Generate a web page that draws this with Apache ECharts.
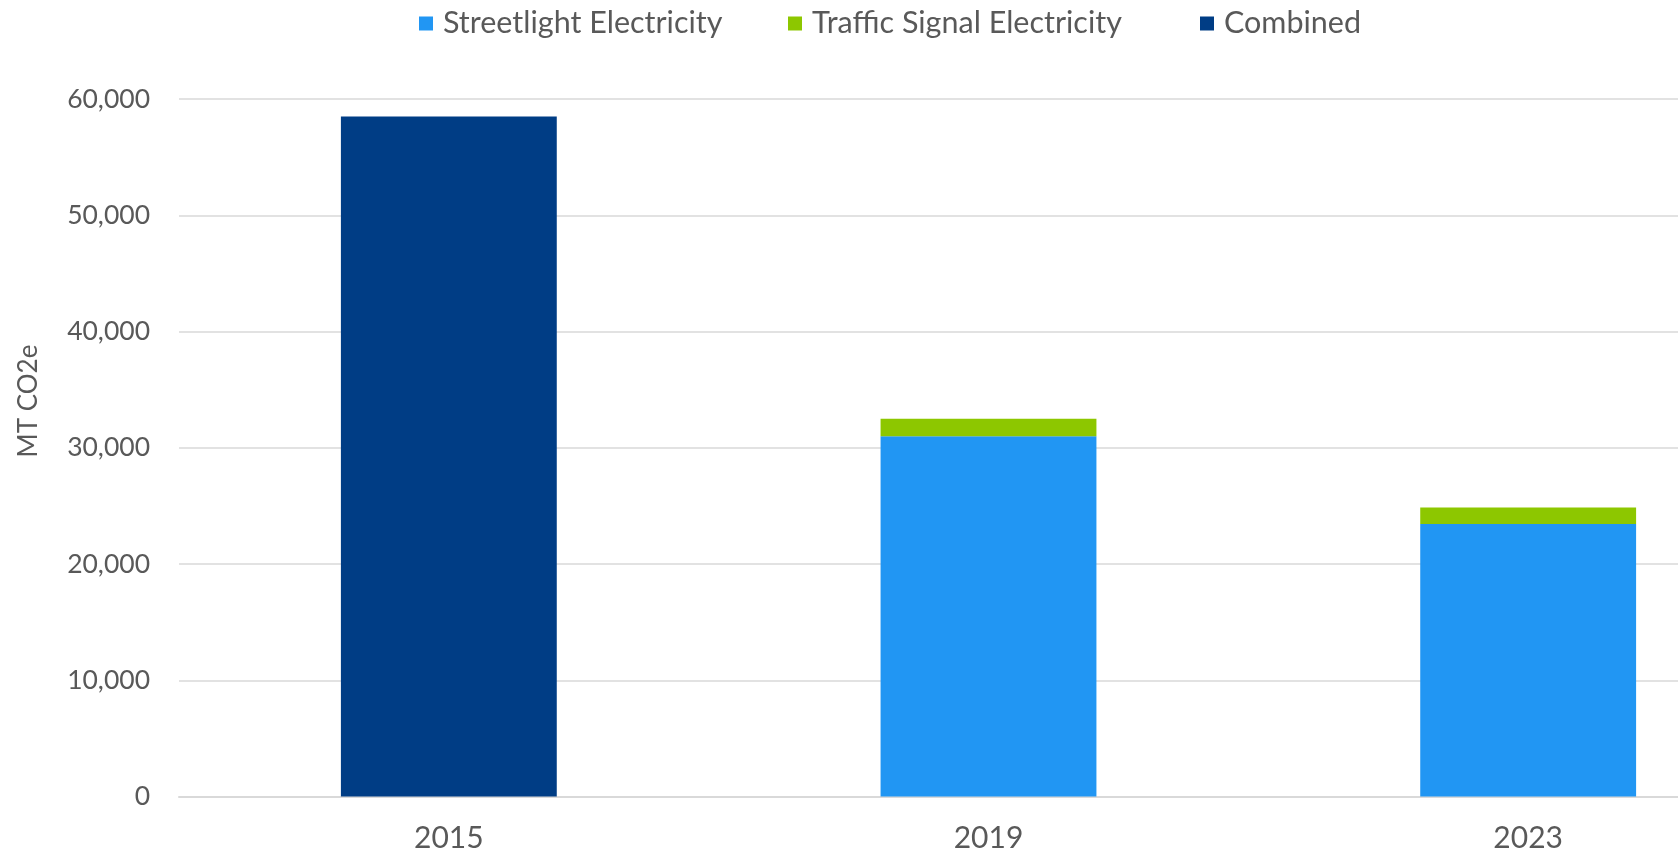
<!DOCTYPE html>
<html>
<head>
<meta charset="utf-8">
<script src="https://cdn.jsdelivr.net/npm/echarts@6/dist/echarts.min.js"></script>
<style>
  html, body { margin: 0; padding: 0; background: #fff; overflow: hidden; }
  /* the plot runs past the right edge of the picture, as in the reference */
  #chart { width: 1798px; height: 854px; }
</style>
</head>
<body>
<div id="chart"></div>
<script>
// Data (MT CO2e)
const years = ['2015', '2019', '2023'];
const streetlight = [null, 31000, 23450];
const trafficSignal = [null, 1500, 1400];
const combined = [58500, null, null];
const yTicks = { min: 0, max: 60000, interval: 10000 };

const seriesNames = ['Streetlight Electricity', 'Traffic Signal Electricity', 'Combined'];
const legendLeft = [414, 783, 1195];

const textColor = '#595959';
const fontFamily = 'Lato, "Noto Sans", sans-serif';

const chart = echarts.init(document.getElementById('chart'), null, { renderer: 'canvas' });

chart.setOption({
    backgroundColor: '#fff',
    animation: false,
    // one legend per item so each sits where the reference puts it
    legend: seriesNames.map((name, i) => ({
        top: 3,
        left: legendLeft[i],
        itemWidth: 14,
        itemHeight: 14,
        icon: 'rect',
        textStyle: { color: textColor, fontSize: 30.5, fontFamily: fontFamily, padding: [0, 0, 0, 5] },
        data: [name]
    })),
    grid: {
        left: 179,
        right: 0,
        top: 99,
        bottom: 854 - 796.5,
        containLabel: false
    },
    xAxis: {
        type: 'category',
        data: years,
        axisTick: { show: false },
        axisLine: { lineStyle: { color: '#d9d9d9', width: 2 } },
        axisLabel: { color: textColor, fontSize: 30, fontFamily: fontFamily, margin: 27 }
    },
    yAxis: {
        type: 'value',
        min: yTicks.min,
        max: yTicks.max,
        interval: yTicks.interval,
        axisLine: { show: false },
        axisTick: { show: false },
        splitLine: { lineStyle: { color: '#d9d9d9', width: 1.5 } },
        axisLabel: {
            color: textColor,
            fontSize: 26.5,
            fontFamily: fontFamily,
            margin: 29,
            formatter: (v) => v.toLocaleString('en-US')
        }
    },
    graphic: [{
        type: 'text',
        x: 16,
        y: 401,
        rotation: Math.PI / 2,
        style: {
            text: 'MT CO2e',
            fill: textColor,
            font: '26px ' + fontFamily,
            align: 'center',
            verticalAlign: 'top'
        }
    }],
    series: [
        {
            name: seriesNames[0],
            type: 'bar',
            stack: 'total',
            barWidth: '40%',
            itemStyle: { color: '#2196f3' },
            data: streetlight
        },
        {
            name: seriesNames[1],
            type: 'bar',
            stack: 'total',
            barWidth: '40%',
            itemStyle: { color: '#8dc700' },
            data: trafficSignal
        },
        {
            name: seriesNames[2],
            type: 'bar',
            stack: 'total',
            barWidth: '40%',
            itemStyle: { color: '#003d85' },
            data: combined
        }
    ]
});
</script>
</body>
</html>
